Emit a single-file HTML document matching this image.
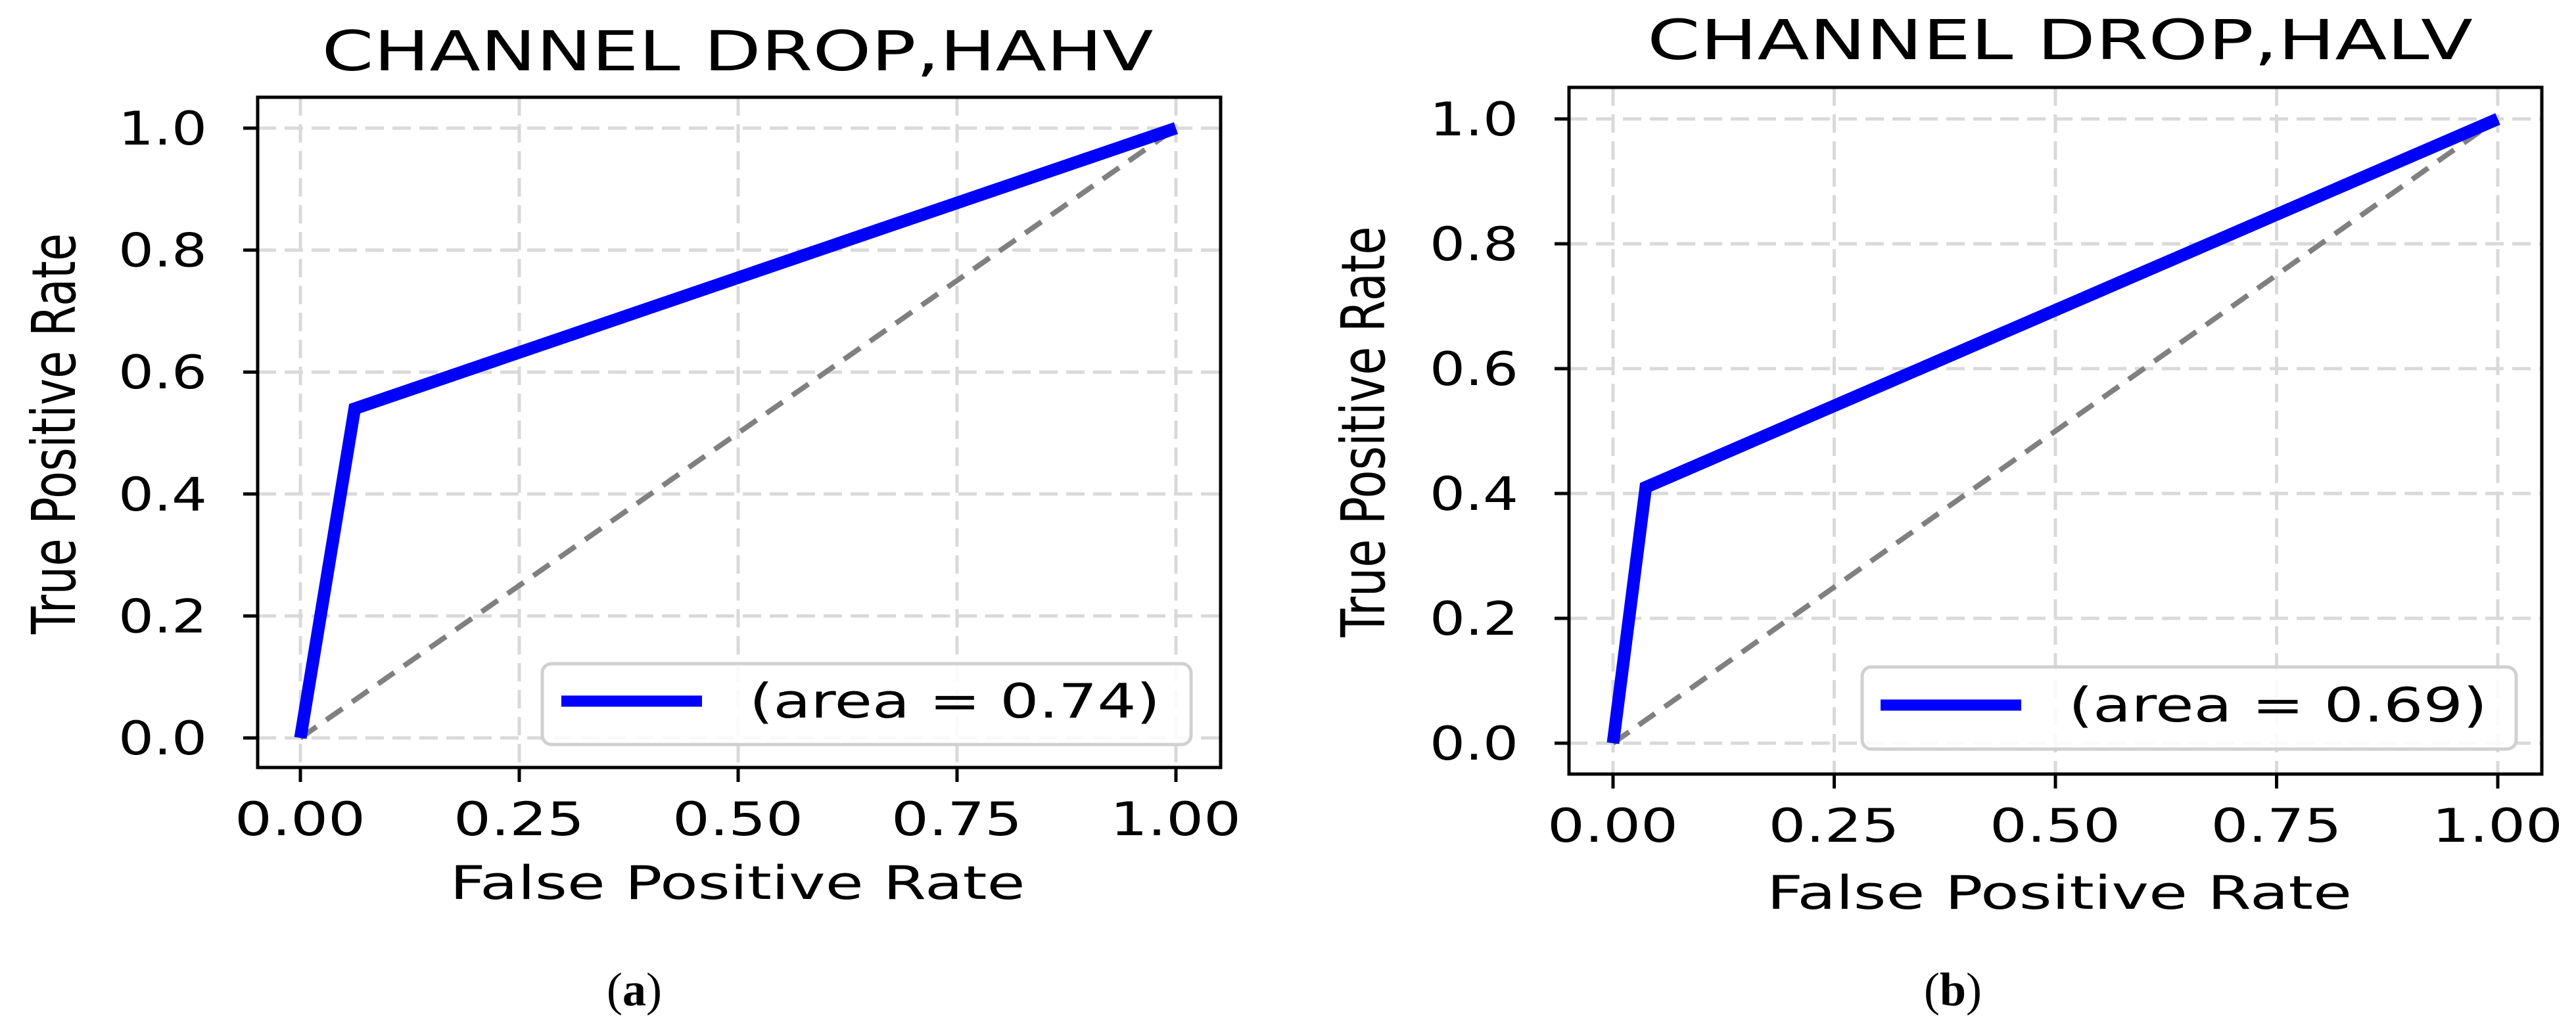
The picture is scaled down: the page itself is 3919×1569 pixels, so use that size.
<!DOCTYPE html>
<html><head><meta charset="utf-8"><style>
html,body{margin:0;padding:0;background:#fff;}
svg{display:block;}
text{font-family:"DejaVu Sans","Liberation Sans",sans-serif;fill:#000;}
</style></head><body>
<svg id="fig" width="3919" height="1569" viewBox="0 0 3919 1569" xmlns="http://www.w3.org/2000/svg"></svg>
<script>
// Panel (a) data
const fprA = [0, 0.062, 1];
const tprA = [0, 0.54, 1];
const aucA = "0.74";
// Panel (b) data
const fprB = [0, 0.037, 1];
const tprB = [0, 0.41, 1];
const aucB = "0.69";
const xTicks = [0, 0.25, 0.5, 0.75, 1];
const xTickLabels = ["0.00","0.25","0.50","0.75","1.00"];
const yTicks = [0, 0.2, 0.4, 0.6, 0.8, 1.0];
const yTickLabels = ["0.0","0.2","0.4","0.6","0.8","1.0"];

const NS = "http://www.w3.org/2000/svg";
const svg = document.getElementById('fig');
function mk(tag, attrs, parent){
  const e = document.createElementNS(NS, tag);
  for (const k in attrs) e.setAttribute(k, attrs[k]);
  (parent||svg).appendChild(e);
  return e;
}

const panels = [
  {id:'a', fpr:fprA, tpr:tprA, auc:aucA, title:"CHANNEL DROP,HAHV", box:[392,148,1857,1168], x0:457, x1:1789, y0:1123, y1:195,
   titleX:1122, titleY:107, titleW:1265, ylabX:114, ylabY:660, ylabW:610, xlabX:1122, xlabY:1368, xlabW:875,
   leg:[825,1010,1812,1133], legLine:[854,1068,1067], legText:[1140,1092,625], cap:"(a)", capX:965, capY:1530},
  {id:'b', fpr:fprB, tpr:tprB, auc:aucB, title:"CHANNEL DROP,HALV", box:[2387,133,3867,1178], x0:2454, x1:3800, y0:1131, y1:181,
   titleX:3134, titleY:90, titleW:1256, ylabX:2106, ylabY:657, ylabW:625, xlabX:3133, xlabY:1383, xlabW:890,
   leg:[2833,1015,3828,1140], legLine:[2861,3075,1073], legText:[3147,1098,637], cap:"(b)", capX:2971, capY:1530}
];

panels.forEach(p => {
  const g = mk('g', {});
  
  
  const sx = v => p.x0 + (p.x1 - p.x0) * v;
  const sy = v => p.y0 + (p.y1 - p.y0) * v;
  const [bl, bt, br, bb] = p.box;

  xTicks.forEach((t,i) => {
    const l = mk('line', {x1:sx(t), x2:sx(t), y1:bt, y2:bb, stroke:'#d9d9d9', 'stroke-width':5, 'stroke-dasharray':'28 13'}, g);
    
    
  });
  yTicks.forEach((t,i) => {
    const l = mk('line', {x1:bl, x2:br, y1:sy(t), y2:sy(t), stroke:'#d9d9d9', 'stroke-width':5, 'stroke-dasharray':'28 13'}, g);
    
    
  });

  const d = mk('line', {x1:sx(0), y1:sy(0), x2:sx(1), y2:sy(1), stroke:'#808080', 'stroke-width':8, 'stroke-dasharray':'30 18'}, g);
  
  

  const pts = p.fpr.map((f,i) => sx(f) + ',' + sy(p.tpr[i])).join(' ');
  const c = mk('polyline', {points:pts, fill:'none', stroke:'#0000ff', 'stroke-width':19, 'stroke-linejoin':'miter'}, g);
  
  

  const r = mk('rect', {x:bl, y:bt, width:br-bl, height:bb-bt, fill:'none', stroke:'#000', 'stroke-width':5}, g);
  
  

  xTicks.forEach((t,i) => {
    const tk = mk('line', {x1:sx(t), x2:sx(t), y1:bb, y2:bb+22, stroke:'#000', 'stroke-width':5}, g);
    
    
    const tx = mk('text', {x:sx(t)-100, y:bb+103, 'font-size':70, textLength:199, lengthAdjust:'spacingAndGlyphs'}, g);
    tx.textContent = xTickLabels[i];
    
    
  });
  yTicks.forEach((t,i) => {
    const tk = mk('line', {x1:bl-22, x2:bl, y1:sy(t), y2:sy(t), stroke:'#000', 'stroke-width':5}, g);
    
    
    const tx = mk('text', {x:bl-212, y:sy(t)+25, 'font-size':70, textLength:135, lengthAdjust:'spacingAndGlyphs'}, g);
    tx.textContent = yTickLabels[i];
    
    
  });

  const ti = mk('text', {x:p.titleX, y:p.titleY, 'font-size':84, 'text-anchor':'middle', textLength:p.titleW, lengthAdjust:'spacingAndGlyphs'}, g);
  ti.textContent = p.title;
  
  

  const yl = mk('text', {x:0, y:0, 'font-size':92, 'text-anchor':'middle', textLength:p.ylabW, lengthAdjust:'spacingAndGlyphs', transform:'translate(' + p.ylabX + ',' + p.ylabY + ') rotate(-90)'}, g);
  yl.textContent = 'True Positive Rate';
  
  

  const xl = mk('text', {x:p.xlabX, y:p.xlabY, 'font-size':70, 'text-anchor':'middle', textLength:p.xlabW, lengthAdjust:'spacingAndGlyphs'}, g);
  xl.textContent = 'False Positive Rate';
  
  

  const [ll, lt, lr, lb] = p.leg;
  const lg = mk('g', {}, g);
  
  
  mk('rect', {x:ll, y:lt, width:lr-ll, height:lb-lt, rx:14, fill:'#fff', 'fill-opacity':0.85, stroke:'#d0d0d0', 'stroke-width':5}, lg);
  const sw = mk('line', {x1:p.legLine[0], x2:p.legLine[1], y1:p.legLine[2], y2:p.legLine[2], stroke:'#0000ff', 'stroke-width':17}, lg);
  
  
  const lt2 = mk('text', {x:p.legText[0], y:p.legText[1], 'font-size':72, textLength:p.legText[2], lengthAdjust:'spacingAndGlyphs'}, lg);
  lt2.textContent = '(area = ' + p.auc + ')';
  
  

  const cp = mk('text', {x:p.capX, y:p.capY, 'font-size':72, 'text-anchor':'middle', style:'font-family:"Liberation Serif",serif'}, g);
  cp.innerHTML = '(<tspan font-weight="bold">' + p.id + '</tspan>)';
  
  
});
</script>
</body></html>
